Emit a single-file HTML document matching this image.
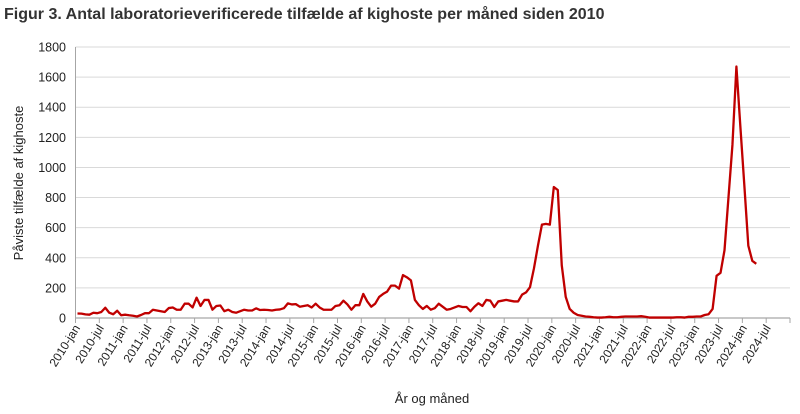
<!DOCTYPE html>
<html><head><meta charset="utf-8">
<style>
body{margin:0;background:#fff;}
svg{display:block;font-family:"Liberation Sans",sans-serif;}
</style></head>
<body>
<svg id="chart" width="800" height="414" viewBox="0 0 800 414" xmlns="http://www.w3.org/2000/svg">
<text x="4" y="19" font-size="16" font-weight="bold" fill="#333">Figur 3. Antal laboratorieverificerede tilfælde af kighoste per måned siden 2010</text>
<g id="grid"></g>
<g id="yticks"></g>
<g id="xticks"></g>
<g id="series"></g>
<text transform="translate(23,183) rotate(-90)" text-anchor="middle" font-size="13" fill="#222">Påviste tilfælde af kighoste</text>
<text x="432" y="403" text-anchor="middle" font-size="13" fill="#222">År og måned</text>
</svg>
<script>
const yTicks = [0,200,400,600,800,1000,1200,1400,1600,1800];
const years = [2010,2011,2012,2013,2014,2015,2016,2017,2018,2019,2020,2021,2022,2023,2024];
const halves = ["jan","jul"];
const cases2010 = [30,29,24,22,35,32,40,68,35,25,48,18];
const cases2011 = [22,18,15,10,20,32,32,55,50,45,40,66];
const cases2012 = [70,55,55,95,95,70,135,80,120,120,55,80];
const cases2013 = [83,45,55,40,35,45,55,50,50,64,53,55];
const cases2014 = [53,50,55,57,65,97,90,92,75,80,85,70];
const cases2015 = [95,70,55,55,55,80,85,115,90,55,85,85];
const cases2016 = [160,110,75,95,140,160,175,215,215,195,285,270];
const cases2017 = [250,120,85,60,80,55,65,95,75,55,60,70];
const cases2018 = [80,73,73,45,75,98,80,120,115,73,110,115];
const cases2019 = [120,115,110,110,155,170,205,330,480,620,625,620];
const cases2020 = [870,850,350,140,60,35,20,15,10,8,5,3];
const cases2021 = [3,5,8,5,5,8,10,10,10,10,12,8];
const cases2022 = [3,3,3,3,3,3,3,5,5,3,8,8];
const cases2023 = [10,10,20,25,60,280,300,450,800,1150,1670,1270];
const cases2024 = [880,480,380,360];
const values = [].concat(cases2010,cases2011,cases2012,cases2013,cases2014,cases2015,cases2016,cases2017,cases2018,cases2019,cases2020,cases2021,cases2022,cases2023,cases2024);

const NS="http://www.w3.org/2000/svg";
const X0=75.5, X1=790, Y0=318, Y1=47, YMAX=1800, NCAT=180;
const step=(X1-X0)/NCAT;
function xPos(i){return X0+(i+0.5)*step;}
function xEdge(i){return X0+i*step;}
function yPos(v){return Y0-(v/YMAX)*(Y0-Y1);}
function mk(tag,attrs,parent){const e=document.createElementNS(NS,tag);for(const k in attrs)e.setAttribute(k,attrs[k]);parent.appendChild(e);return e;}

const grid=document.getElementById('grid'), yt=document.getElementById('yticks'), xt=document.getElementById('xticks'), ser=document.getElementById('series');
yTicks.forEach(v=>{
  if(v>0){const g=mk('line',{x1:X0,x2:X1,y1:yPos(v),y2:yPos(v),stroke:'#d9d9d9','stroke-width':1},grid);
  
  }
  const t=mk('text',{x:66,y:yPos(v)+4.5,'text-anchor':'end','font-size':12.5,fill:'#222'},yt);
  t.textContent=v;
  
  
});
const ya=mk('line',{x1:X0,x2:X0,y1:Y1,y2:Y0,stroke:'#a6a6a6','stroke-width':1},yt);


const xa=mk('line',{x1:X0,x2:X1,y1:Y0,y2:Y0,stroke:'#a6a6a6','stroke-width':1.3},xt);


let k=0;
years.forEach(y=>{halves.forEach(h=>{
  const x=xEdge(k*6);
  const tk=mk('line',{x1:x,x2:x,y1:Y0,y2:Y0+5,stroke:'#a6a6a6','stroke-width':1},xt);
  
  
  const t=mk('text',{'text-anchor':'end','font-size':12,fill:'#222',transform:'translate('+(x+5)+',328) rotate(-58)'},xt);
  t.textContent=y+'-'+h;
  
  
  k++;
});});
const endTk=mk('line',{x1:X1,x2:X1,y1:Y0,y2:Y0+5,stroke:'#a6a6a6','stroke-width':1},xt);


const pts=values.map((v,i)=>xPos(i).toFixed(2)+','+yPos(v).toFixed(2)).join(' ');
const line=mk('polyline',{points:pts,fill:'none',stroke:'#c00000','stroke-width':2.3,'stroke-linejoin':'round'},ser);


</script>
</body></html>
